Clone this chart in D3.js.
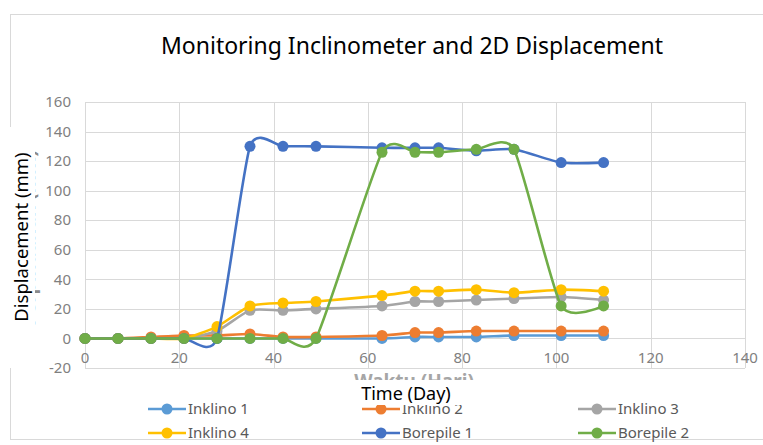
<!DOCTYPE html>
<html>
<head>
<meta charset="utf-8">
<script src="https://cdn.jsdelivr.net/npm/d3@7"></script>
<style>
  body { margin: 0; background: #fff; }
  svg { display: block; font-family: "Noto Sans", sans-serif; }
</style>
</head>
<body>
<script>
// days of measurement and displacement per series (mm)
const days = [0, 7, 14, 21, 28, 35, 42, 49, 63, 70, 75, 83, 91, 101, 110];
const inklino1 = [0, 0, 0, 0, 0, 0, 0, 0, 0, 1, 1, 1, 2, 2, 2];
const inklino2 = [0, 0, 1, 2, 2, 3, 1, 1, 2, 4, 4, 5, 5, 5, 5];
const inklino3 = [0, 0, 0, 0, 5, 19, 19, 20, 22, 25, 25, 26, 27, 28, 26];
const inklino4 = [0, 0, 0, 0, 8, 22, 24, 25, 29, 32, 32, 33, 31, 33, 32];
const borepile1 = [0, 0, 0, 0, 0, 130, 130, 130, 129, 129, 129, 127, 128, 119, 119];
const borepile2 = [0, 0, 0, 0, 0, 0, 0, 0, 126, 126, 126, 128, 128, 22, 22];

const seriesNames = ["Inklino 1", "Inklino 2", "Inklino 3", "Inklino 4", "Borepile 1", "Borepile 2"];
const seriesValues = [inklino1, inklino2, inklino3, inklino4, borepile1, borepile2];
const colors = ["#5B9BD5", "#ED7D31", "#A5A5A5", "#FFC000", "#4472C4", "#70AD47"];

const xTicks = [0, 20, 40, 60, 80, 100, 120, 140];
const yTicks = [-20, 0, 20, 40, 60, 80, 100, 120, 140, 160];

const width = 763, height = 445;
const marginLeft = 85, marginRight = 18, marginTop = 102, plotBottom = 368;

const x = d3.scaleLinear().domain([0, 140]).range([marginLeft, width - marginRight]);
const y = d3.scaleLinear().domain([-20, 160]).range([plotBottom, marginTop]);

const svg = d3.select("body").append("svg")
  .attr("width", width)
  .attr("height", height)
  .attr("viewBox", [0, 0, width, height]);

// chart frame
svg.append("rect")
  .attr("x", 10.5).attr("y", 14.5)
  .attr("width", width + 10).attr("height", 425)
  .attr("fill", "#fff")
  .attr("stroke", "#d9d9d9");

// title
svg.append("text")
  .attr("x", 412).attr("y", 54)
  .attr("text-anchor", "middle")
  .attr("font-size", 23)
  .attr("fill", "#000")
  .text("Monitoring Inclinometer and 2D Displacement");

// grid
svg.append("g")
  .attr("stroke", "#d9d9d9")
  .attr("stroke-width", 1)
  .call(g => g.selectAll("line.h").data(yTicks).join("line")
    .attr("x1", x(0)).attr("x2", x(140))
    .attr("y1", d => Math.round(y(d)) + 0.5).attr("y2", d => Math.round(y(d)) + 0.5))
  .call(g => g.selectAll("line.v").data(xTicks).join("line")
    .attr("y1", y(160)).attr("y2", y(-20))
    .attr("x1", d => Math.round(x(d)) + 0.5).attr("x2", d => Math.round(x(d)) + 0.5));

// y axis labels
svg.append("g")
  .attr("fill", "#7f7f7f")
  .attr("font-size", 15)
  .attr("text-anchor", "end")
  .selectAll("text")
  .data(yTicks)
  .join("text")
  .attr("x", 71)
  .attr("y", d => y(d))
  .attr("dy", "0.35em")
  .text(d => d);

// x axis labels (sitting just under the zero line)
svg.append("g")
  .attr("fill", "#7f7f7f")
  .attr("font-size", 15)
  .attr("text-anchor", "middle")
  .selectAll("text")
  .data(xTicks)
  .join("text")
  .attr("x", d => x(d))
  .attr("y", 358)
  .attr("dy", "0.35em")
  .text(d => d);

// lines + markers, excel-like smoothing
const line = d3.line()
  .curve(d3.curveCardinal.tension(0.4))
  .x((d, i) => x(days[i]))
  .y(d => y(d));

seriesValues.forEach((vals, k) => {
  const g = svg.append("g");
  g.append("path")
    .attr("d", line(vals))
    .attr("fill", "none")
    .attr("stroke", colors[k])
    .attr("stroke-width", 2.6);
  g.selectAll("circle")
    .data(vals)
    .join("circle")
    .attr("cx", (d, i) => x(days[i]))
    .attr("cy", d => y(d))
    .attr("r", 5.5)
    .attr("fill", colors[k]);
});

// old (covered) x axis title
svg.append("text")
  .attr("x", 414).attr("y", 388)
  .attr("text-anchor", "middle")
  .attr("font-size", 19)
  .attr("font-weight", "bold")
  .attr("fill", "#a6a6a6")
  .text("Waktu (Hari)");

// old (covered) y axis title
svg.append("text")
  .attr("transform", "translate(35,238) rotate(-90)")
  .attr("text-anchor", "middle")
  .attr("font-size", 19)
  .attr("font-weight", "bold")
  .attr("fill", "#8a8a8a")
  .text("Perpindahan (mm)");

// legend
const legendX = [148, 362, 578];
const legendY = [409, 433];
const legend = svg.append("g").attr("font-size", 15).attr("fill", "#595959");
seriesNames.forEach((name, k) => {
  const lx = legendX[k % 3], ly = legendY[Math.floor(k / 3)];
  legend.append("line")
    .attr("x1", lx).attr("x2", lx + 38)
    .attr("y1", ly).attr("y2", ly)
    .attr("stroke", colors[k]).attr("stroke-width", 2.6);
  legend.append("circle")
    .attr("cx", lx + 19).attr("cy", ly).attr("r", 5.5)
    .attr("fill", colors[k]);
  legend.append("text")
    .attr("x", lx + 40).attr("y", ly)
    .attr("dy", "0.35em")
    .text(name);
});

// white patches pasted over the old titles
svg.append("rect")
  .attr("x", 0).attr("y", 127).attr("width", 35).attr("height", 241)
  .attr("fill", "#fff");
svg.append("rect")
  .attr("x", 340).attr("y", 380).attr("width", 135).attr("height", 25)
  .attr("fill", "#fff");

// new axis titles
svg.append("text")
  .attr("x", 406).attr("y", 400)
  .attr("text-anchor", "middle")
  .attr("font-size", 18)
  .attr("fill", "#000")
  .text("Time (Day)");

svg.append("text")
  .attr("transform", "translate(28,237) rotate(-90)")
  .attr("text-anchor", "middle")
  .attr("font-size", 18.5)
  .attr("fill", "#000")
  .text("Displacement (mm)");
</script>
</body>
</html>
